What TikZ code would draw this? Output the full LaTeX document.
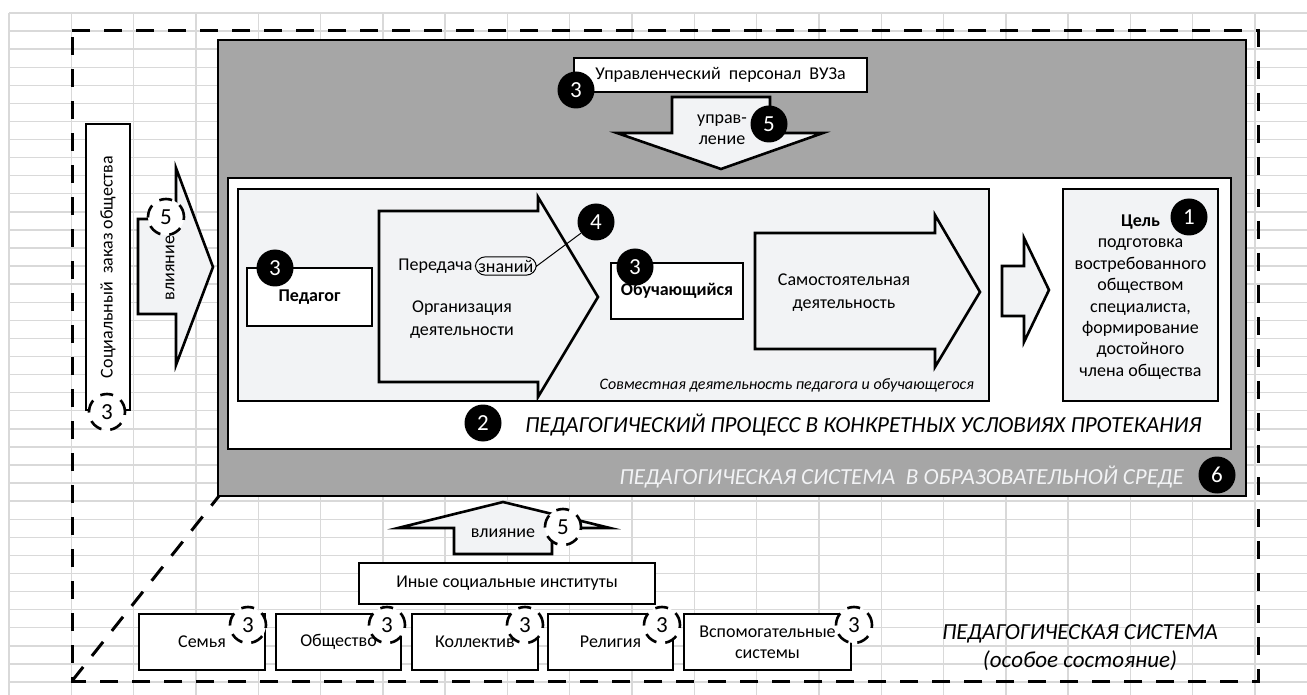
\documentclass[tikz,border=0pt]{standalone}
\usepackage{fontspec}
\setmainfont{Carlito}
\usetikzlibrary{shapes,positioning}

\definecolor{paneGray}{RGB}{166,166,166}
\definecolor{paleFill}{RGB}{242,243,245}
\definecolor{gridGray}{RGB}{217,217,217}

\begin{document}
\begin{tikzpicture}[x=0.5pt, y=-0.5pt,
				box/.style={
				% The shape:
				rectangle,
				% The border:
				draw=black, line width=1.3pt,
				% The filling:
				fill=white,
				% Font
				font=\fontsize{9}{10.5}\selectfont
				},
				badge/.style={
				% The shape:
				circle,
				% The size:
				minimum size=18.5pt, inner sep=0pt,
				% The filling:
				fill=black,
				% Font
				text=white, font=\fontsize{11.5}{13}\selectfont
				},
				dbadge/.style={
				% The shape:
				circle,
				% The size:
				minimum size=18pt, inner sep=0pt,
				% The border:
				draw=black, line width=1.3pt, dash pattern=on 6.5pt off 4.5pt,
				% The filling:
				fill=white,
				% Font
				font=\fontsize{11.5}{13}\selectfont
				},
				blockarrow/.style={
				% The border:
				draw=black, line width=1.3pt, line join=miter,
				% The filling:
				fill=paleFill
				},
				frame/.style={
				draw=black, line width=1.4pt
				},
				gridline/.style={draw=gridGray, line width=0.7pt},
				plain/.style={font=\fontsize{9}{10.5}\selectfont},
				caption/.style={font=\fontsize{8}{10}\selectfont\itshape},
				heading/.style={font=\fontsize{11.5}{14}\selectfont\itshape},
				]
    \tikzstyle{every node} = [align=center]
    \fill[white] (0,0) rectangle (1307,695);
    \useasboundingbox (0,0) rectangle (1307,695);

    % sheet grid
    \foreach \i in {0,...,20}
        \draw[gridline] ({9+62.3*\i},13) -- ({9+62.3*\i},695);
    \foreach \j in {0,...,37}
        \draw[gridline] (9,{13+18.08*\j}) -- (1307,{13+18.08*\j});

    % pedagogical system (special state)
    \draw[line width=1.5pt, dash pattern=on 9pt off 7pt]
        (72,31) -- (1258,31) -- (1258,681) -- (72,681) -- cycle;
    \draw[line width=1.5pt, dash pattern=on 9pt off 7pt] (72,681) -- (219,496);

    % system in educational environment
    \draw[frame, fill=paneGray] (218,40) rectangle (1246,496);
    \draw[frame, fill=white] (228,178) rectangle (1231,449);
    \draw[frame, line width=1.3pt, fill=paleFill] (238,189) rectangle (989,401);
    \node[box, fill=paleFill, minimum width=77.5pt, minimum height=106pt] (goal) at (1140.5,295) {};

    % block arrows
    \draw[blockarrow] (379,211) -- (538,211) -- (538,197) -- (598,297) -- (538,397) -- (538,382) -- (379,382) -- cycle;
    \draw[blockarrow] (755,233) -- (935,233) -- (935,215) -- (980,292) -- (935,367) -- (935,349) -- (755,349) -- cycle;
    \draw[blockarrow] (1002,266) -- (1024,266) -- (1024,238) -- (1049,290) -- (1024,342) -- (1024,316) -- (1002,316) -- cycle;
    \draw[blockarrow] (672,97) -- (770,97) -- (770,133) -- (823,133) -- (721,169) -- (617,133) -- (672,133) -- cycle;
    \draw[blockarrow] (138,219) -- (176,219) -- (176,168) -- (213,267) -- (176,365) -- (176,314) -- (138,314) -- cycle;
    \draw[blockarrow] (454,554) -- (454,528) -- (398,528) -- (503,502) -- (610,528) -- (552,528) -- (552,554) -- cycle;

    % actors
    \node[box, minimum width=146.5pt, minimum height=17pt] (staff) at (720.5,75) {Управленческий~~персонал~~ВУЗа};
    \node[box, font=\fontsize{9}{10.5}\selectfont\bfseries, minimum width=62.5pt, minimum height=29pt] (teacher) at (309.5,297) {Педагог};
    \node[box, font=\fontsize{9}{10.5}\selectfont\bfseries, minimum width=66pt, minimum height=28pt] (learner) at (677,291) {Обучающийся};
    \node[box, rotate=90, minimum width=143pt, minimum height=22pt] (order) at (108,267) {Социальный~~заказ общества};
    \node[box, minimum width=148pt, minimum height=20.5pt] (inst) at (507,583.5) {Иные социальные институты};
    \node[box, minimum width=63pt, minimum height=28pt] (family) at (202,642) {Семья};
    \node[box, minimum width=62.5pt, minimum height=28pt] (society) at (338.5,642) {Общество};
    \node[box, minimum width=63pt, minimum height=28pt] (team) at (475,642) {Коллектив};
    \node[box, minimum width=62.5pt, minimum height=28pt] (religion) at (610.5,642) {Религия};
    \node[box, minimum width=83.5pt, minimum height=28pt] (aux) at (767.5,642) {Вспомогательные\\системы};

    % texts
    \node[plain] (upr) at (722,129.5) {управ-\\ление};
    \node[plain, rotate=90] (vlL) at (170,268) {влияние};
    \node[plain] (vlB) at (503,533) {влияние};
    \node[plain, anchor=west, inner sep=1pt] (transfer) at (396,266) {Передача};
    \node[plain, draw, line width=0.5pt, rounded corners=5pt, inner sep=1.5pt, right=0pt of transfer] (know) {знаний};
    \node[plain] (org) at (462,319.5) {Организация\\[1pt]деятельности};
    \node[plain] (self) at (844,292.5) {Самостоятельная\\[1pt]деятельность};
    \node[font=\fontsize{9}{10.7}\selectfont] (aim) at (1140.5,297) {\textbf{Цель}\\подготовка\\востребованного\\обществом\\специалиста,\\формирование\\достойного\\члена общества};
    \node[caption, anchor=east] (joint) at (981,385) {Совместная деятельность педагога и обучающегося};
    \node[heading, anchor=west] (process) at (518,425) {ПЕДАГОГИЧЕСКИЙ ПРОЦЕСС В КОНКРЕТНЫХ УСЛОВИЯХ ПРОТЕКАНИЯ};
    \node[heading, anchor=east, text=paleFill] (system) at (1191,477) {ПЕДАГОГИЧЕСКАЯ СИСТЕМА~~В ОБРАЗОВАТЕЛЬНОЙ СРЕДЕ};
    \node[heading] (special) at (1080,648) {ПЕДАГОГИЧЕСКАЯ СИСТЕМА\\(особое состояние)};

    % numbered marks
    \node[badge] (b1) at (1189,217) {1};
    \node[badge] (b2) at (483,423) {2};
    \node[badge] (b3staff) at (576,90) {3};
    \node[badge] (b3teacher) at (275,268) {3};
    \node[badge] (b3learner) at (635,267) {3};
    \node[badge] (b4) at (596,222) {4};
    \node[badge] (b5top) at (769,124) {5};
    \node[badge] (b6) at (1217,475) {6};
    \node[dbadge] (d3order) at (107,412) {3};
    \node[dbadge] (d5left) at (166,217) {5};
    \node[dbadge] (d5bot) at (563,527) {5};
    \node[dbadge] (d3family) at (248,625) {3};
    \node[dbadge] (d3society) at (387,625) {3};
    \node[dbadge] (d3team) at (525,625) {3};
    \node[dbadge] (d3religion) at (662,625) {3};
    \node[dbadge] (d3aux) at (854,625) {3};

    \draw[line width=0.5pt] (know.east) -- (b4);
\end{tikzpicture}
\end{document}
